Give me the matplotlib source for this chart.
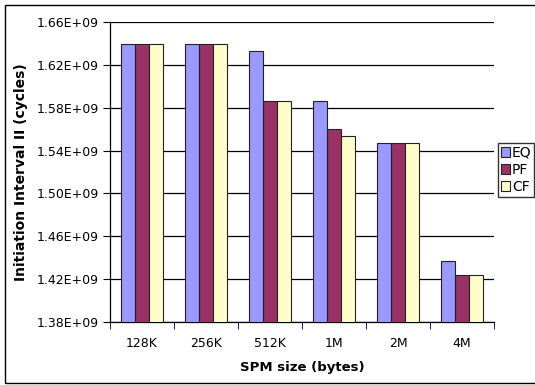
import numpy as np
import matplotlib
matplotlib.use("Agg")
import matplotlib.pyplot as plt
from matplotlib.patches import Rectangle

plt.rcParams['font.family'] = ['DejaVu Sans']

sizes = ["128K", "256K", "512K", "1M", "2M", "4M"]
series = ["EQ", "PF", "CF"]
eq = [1.6395e9, 1.6395e9, 1.6332e9, 1.5866e9, 1.5468e9, 1.4372e9]
pf = [1.6395e9, 1.6395e9, 1.5866e9, 1.5598e9, 1.5468e9, 1.4242e9]
cf = [1.6395e9, 1.6395e9, 1.5866e9, 1.5536e9, 1.5468e9, 1.4242e9]
yticks = [1.38e9, 1.42e9, 1.46e9, 1.50e9, 1.54e9, 1.58e9, 1.62e9, 1.66e9]
colors = ["#9999FF", "#993366", "#FFFFCC"]

fig = plt.figure(figsize=(5.35, 3.85), dpi=100)
ax = fig.add_axes([110 / 535, 1 - 322 / 385, 384 / 535, 300 / 385])

x = np.arange(len(sizes))
w = 0.22
for i, (name, vals) in enumerate(zip(series, [eq, pf, cf])):
    ax.bar(x + (i - 1) * w, vals, w, color=colors[i], edgecolor="#222222",
           linewidth=0.8, label=name, zorder=3)

ax.set_xlim(-0.5, len(sizes) - 0.5)
ax.set_ylim(yticks[0], yticks[-1])
ax.set_yticks(yticks)
ax.set_yticklabels([f"{v / 1e9:.2f}E+09" for v in yticks], fontsize=9)
ax.set_xticks(x)
ax.set_xticklabels(sizes, fontsize=9)
ax.set_xticks(np.arange(len(sizes) + 1) - 0.5, minor=True)
ax.tick_params(axis="x", which="major", length=0, pad=11)
ax.tick_params(axis="x", which="minor", length=5, direction="out")
ax.tick_params(axis="y", length=5, direction="out", pad=3)
ax.grid(axis="y", color="black", linewidth=0.9, zorder=0)
for side in ["top", "right"]:
    ax.spines[side].set_visible(False)
ax.spines["left"].set_linewidth(0.9)
ax.spines["bottom"].set_linewidth(0.9)

ax.set_ylabel("Initiation Interval II (cycles)", fontsize=10, fontweight="bold", labelpad=6)
ax.set_xlabel("SPM size (bytes)", fontsize=9.5, fontweight="bold", labelpad=8)

fig.legend(loc="upper left", bbox_to_anchor=(498 / 535, 1 - 143 / 385),
           fontsize=10, frameon=True, fancybox=False, edgecolor="black",
           borderpad=0.2, handlelength=0.65, handleheight=0.65, handletextpad=0.15,
           labelspacing=0.22, borderaxespad=0)

fig.patches.append(Rectangle((5 / 535, 2 / 385), 1.2, 1 - 7 / 385,
                             transform=fig.transFigure, fill=False,
                             edgecolor="black", linewidth=1.0))

fig.savefig("out.png", dpi=100)
